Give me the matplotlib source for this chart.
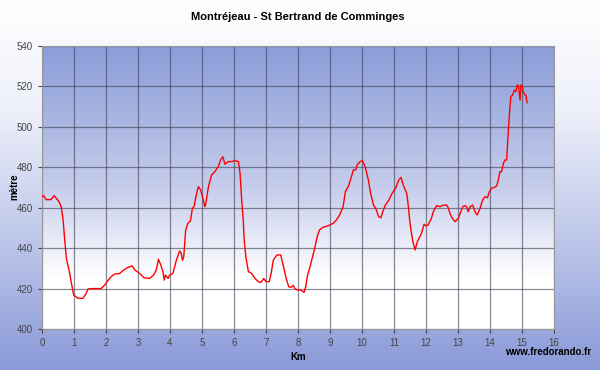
import numpy as np
import matplotlib
matplotlib.use('Agg')
from matplotlib import pyplot as plt
from matplotlib.colors import LinearSegmentedColormap

km = [0.0, 0.05, 0.13, 0.28, 0.38, 0.53, 0.6, 0.66, 0.71, 0.76, 0.86, 0.92, 0.99,
      1.12, 1.28, 1.36, 1.44, 1.54, 1.85, 1.96, 2.06, 2.17, 2.27, 2.43, 2.55, 2.69,
      2.82, 2.9, 3.05, 3.18, 3.36, 3.49, 3.57, 3.64, 3.71, 3.78, 3.82, 3.86, 3.94,
      3.99, 4.09, 4.2, 4.3, 4.35, 4.39, 4.43, 4.49, 4.56, 4.64, 4.7, 4.75, 4.81,
      4.885, 4.96, 5.04, 5.09, 5.12, 5.2, 5.3, 5.4, 5.51, 5.58, 5.65, 5.72, 5.82,
      5.93, 6.03, 6.14, 6.19, 6.24, 6.29, 6.32, 6.37, 6.45, 6.55, 6.65, 6.76, 6.84,
      6.93, 7.0, 7.1, 7.16, 7.23, 7.34, 7.46, 7.55, 7.63, 7.71, 7.78, 7.85, 7.9,
      7.98, 8.08, 8.19, 8.24, 8.3, 8.35, 8.43, 8.51, 8.6, 8.67, 8.78, 8.93, 9.1,
      9.2, 9.3, 9.41, 9.48, 9.57, 9.67, 9.73, 9.8, 9.85, 9.94, 10.01, 10.1, 10.2,
      10.27, 10.36, 10.43, 10.52, 10.59, 10.65, 10.73, 10.84, 10.94, 11.05, 11.15,
      11.22, 11.29, 11.4, 11.45, 11.5, 11.58, 11.66, 11.73, 11.81, 11.86, 11.94,
      12.0, 12.07, 12.17, 12.23, 12.33, 12.44, 12.54, 12.65, 12.7, 12.75, 12.82,
      12.91, 13.01, 13.06, 13.15, 13.22, 13.27, 13.32, 13.38, 13.46, 13.53, 13.6,
      13.69, 13.77, 13.84, 13.92, 13.98, 14.05, 14.13, 14.21, 14.26, 14.31, 14.36,
      14.42, 14.47, 14.52, 14.55, 14.6, 14.65, 14.71, 14.76, 14.81, 14.85, 14.89,
      14.94, 14.97, 15.01, 15.04, 15.09, 15.12, 15.16]
altitude = [465.4, 466, 464, 464, 466, 463, 460.5, 454, 444, 435, 428, 422.6, 416.8,
            415.2, 415.2, 417, 419.8, 420, 420, 421.8, 424, 426, 427.2, 427.5, 429.2,
            430.5, 431.2, 429.2, 427.5, 425.4, 425, 426.7, 429.2, 434.5, 431.7, 428.4,
            424.2, 426.7, 425, 426.7, 427.5, 434.1, 438.6, 437.5, 434, 435.8, 449,
            452.3, 453.5, 459.7, 460.5, 465.4, 470.4, 468.8, 463.8, 460.5, 462, 470.4,
            476.2, 477.8, 480.3, 483.6, 485.2, 481.5, 482.8, 482.8, 483.3, 482.8, 477,
            463.8, 453.9, 444, 435.8, 428.4, 427.5, 425.1, 423.4, 423, 425, 423.4,
            423.4, 427.5, 434.1, 436.6, 436.6, 430.8, 425.1, 420.9, 420.6, 421.6, 420,
            419.3, 419.3, 418.1, 420.9, 426.7, 429.2, 434.1, 439.1, 445.7, 449, 450.3,
            451, 452.3, 453.9, 456.4, 460.5, 467.9, 470.4, 475.3, 478.7, 478.7, 481.1,
            482.8, 483.3, 480.3, 473.7, 467.1, 461.3, 459.7, 455.6, 455, 458, 461.3,
            463.8, 467.1, 469.6, 473.7, 475, 471.2, 467.1, 460.5, 452.3, 444, 439.1,
            443.2, 445.7, 447.3, 451.8, 451, 451.5, 454.8, 458, 461, 460.5, 461.3,
            461.3, 459.7, 457.2, 454.8, 453.1, 454.8, 456.9, 460.5, 461, 460.5, 458,
            460.5, 461.3, 458, 456.4, 459.7, 463.8, 465.4, 465, 467.9, 469.6, 470,
            470.8, 473.7, 477.8, 477.8, 482, 483.6, 483.6, 491.9, 505, 514.9, 515.8,
            518.2, 517.4, 520.7, 520.4, 513.3, 520.7, 520, 517.4, 515.8, 515.8, 512]

x_ticks = list(range(0, 17))
y_ticks = list(range(400, 541, 20))

fig = plt.figure(figsize=(6, 3.7), dpi=100)

# fond de la figure : blanc en haut, bleu en bas
bg = fig.add_axes([0, 0, 1, 1], zorder=-10)
fig_cmap = LinearSegmentedColormap.from_list(
    'fig', [(0, '#ffffff'), (0.3, '#eef0fa'), (0.7, '#b6c0e7'), (1, '#8a9ad8')])
bg.imshow(np.linspace(0, 1, 256).reshape(-1, 1), aspect='auto', cmap=fig_cmap,
          extent=[0, 1, 0, 1], origin='upper')
bg.axis('off')

ax = fig.add_axes([0.07, 0.1108, 0.8533, 0.7649])
plot_cmap = LinearSegmentedColormap.from_list(
    'plot', [(0, '#8a9dd9'), (0.5, '#c6cdec'), (0.82, '#ffffff'), (1, '#ffffff')])
ax.imshow(np.linspace(0, 1, 256).reshape(-1, 1), aspect='auto', cmap=plot_cmap,
          extent=[0, 16, 400, 540], origin='upper', zorder=0)

ax.plot(km, altitude, color='#ff0000', lw=1.0, zorder=3)

ax.set_xlim(0, 16)
ax.set_ylim(400, 540)
ax.set_xticks(x_ticks)
ax.set_yticks(y_ticks)
ax.grid(True, color='#3c3c50', alpha=0.6, lw=0.9, zorder=1)
for s in ax.spines.values():
    s.set_color('#999999')
    s.set_linewidth(0.8)
ax.tick_params(labelsize=7, colors='#444444', length=3, width=0.8)
for lab in ax.get_xticklabels() + ax.get_yticklabels():
    lab.set_family('Liberation Sans')

fig.text(0.497, 0.955, 'Montréjeau - St Bertrand de Comminges', ha='center', va='center',
         fontsize=8, fontweight='bold', family='Liberation Sans')
fig.text(0.024, 0.495, 'mètre', rotation=90, ha='center', va='center', fontsize=7,
         fontweight='bold', family='Liberation Sans')
ax.set_xlabel('Km', fontsize=7, fontweight='bold', family='Liberation Sans', labelpad=3)
fig.text(0.985, 0.048, 'www.fredorando.fr', ha='right', va='center', fontsize=7,
         fontweight='bold', family='Liberation Sans')

fig.savefig('out.png', dpi=100)
